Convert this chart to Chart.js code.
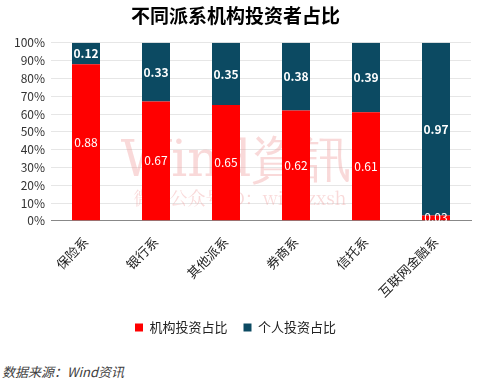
<!DOCTYPE html>
<html lang="zh">
<head>
<meta charset="UTF-8">
<script src="https://cdn.jsdelivr.net/npm/chart.js@4.4.0/dist/chart.umd.min.js"></script>
<style>
  html, body { margin: 0; padding: 0; background: #fff; }
  #wrap { position: relative; width: 482px; height: 389px; }
  #chart-box { position: absolute; left: 0; top: 0; width: 482px; height: 344px; }
  #source { position: absolute; left: 2px; top: 362px; font: italic 13px "Noto Sans CJK SC", sans-serif; color: #404040; }
</style>
</head>
<body>
<div id="wrap">
  <div id="chart-box"><canvas id="chart"></canvas></div>
  <div id="source">数据来源：Wind资讯</div>
</div>
<script>
var categories = ["保险系", "银行系", "其他派系", "券商系", "信托系", "互联网金融系"];
var institutional = [0.88, 0.67, 0.65, 0.62, 0.61, 0.03];
var individual = [0.12, 0.33, 0.35, 0.38, 0.39, 0.97];
var yTicks = [0, 0.1, 0.2, 0.3, 0.4, 0.5, 0.6, 0.7, 0.8, 0.9, 1.0];

var RED = "#ff0000";
var TEAL = "#0c4a62";
var FONT = '"Noto Sans CJK SC", "Noto Sans", sans-serif';

// 棒の中央に数値を書く
var valueLabels = {
  id: "valueLabels",
  afterDatasetsDraw: function(chart) {
    var ctx = chart.ctx;
    ctx.save();
    ctx.textAlign = "center";
    ctx.textBaseline = "middle";
    ctx.fillStyle = "#ffffff";
    chart.data.datasets.forEach(function(ds, di) {
      var meta = chart.getDatasetMeta(di);
      ctx.font = (di == 1 ? "bold " : "") + "12px " + FONT;
      meta.data.forEach(function(bar, i) {
        var y = (bar.y + bar.base) / 2;
        ctx.fillText(ds.data[i].toFixed(2), bar.x, y);
      });
    });
    ctx.restore();
  }
};

// 透かし
var watermark = {
  id: "watermark",
  beforeDatasetsDraw: function(chart) {
    var ctx = chart.ctx;
    var a = chart.chartArea;
    ctx.save();
    ctx.textAlign = "center";
    ctx.textBaseline = "middle";
    ctx.fillStyle = "rgba(240, 160, 160, 0.4)";
    ctx.font = '50px "DejaVu Serif", serif';
    ctx.fillText("Wind資訊", 236, a.top + 120);
    ctx.font = '18px "Noto Serif CJK SC", "DejaVu Serif", serif';
    ctx.fillText("微信公众号ID：windzxsh", 240, a.top + 155);
    ctx.restore();
  }
};

new Chart(document.getElementById("chart"), {
  type: "bar",
  data: {
    labels: categories,
    datasets: [
      { label: "机构投资占比", data: institutional, backgroundColor: RED },
      { label: "个人投资占比", data: individual, backgroundColor: TEAL }
    ]
  },
  options: {
    animation: false,
    responsive: true,
    maintainAspectRatio: false,
    layout: { padding: { left: 0, right: 11, top: 0, bottom: 0 } },
    datasets: { bar: { categoryPercentage: 1.0, barPercentage: 0.4 } },
    plugins: {
      title: {
        display: true,
        text: "不同派系机构投资者占比",
        color: "#000",
        font: { family: FONT, size: 19, weight: "bold" },
        padding: { top: 4, bottom: 16 }
      },
      legend: {
        position: "bottom",
        labels: {
          color: "#222",
          font: { family: FONT, size: 13 },
          boxWidth: 8,
          boxHeight: 8,
          padding: 16
        }
      },
      tooltip: { enabled: false }
    },
    scales: {
      x: {
        stacked: true,
        grid: { display: false },
        border: { color: "#888" },
        ticks: {
          color: "#222",
          font: { family: FONT, size: 13 },
          minRotation: 45,
          maxRotation: 45,
          padding: 5
        }
      },
      y: {
        stacked: true,
        min: 0,
        max: 1,
        afterFit: function(s) { s.width = 51; },
        afterBuildTicks: function(s) { s.ticks = yTicks.map(function(v) { return { value: v }; }); },
        grid: { color: "#e6e6e6", drawTicks: false },
        border: { display: false },
        ticks: {
          color: "#333",
          padding: 6,
          font: { family: FONT, size: 12 },
          callback: function(v) { return Math.round(v * 100) + "%"; }
        }
      }
    }
  },
  plugins: [watermark, valueLabels]
});
</script>
</body>
</html>
